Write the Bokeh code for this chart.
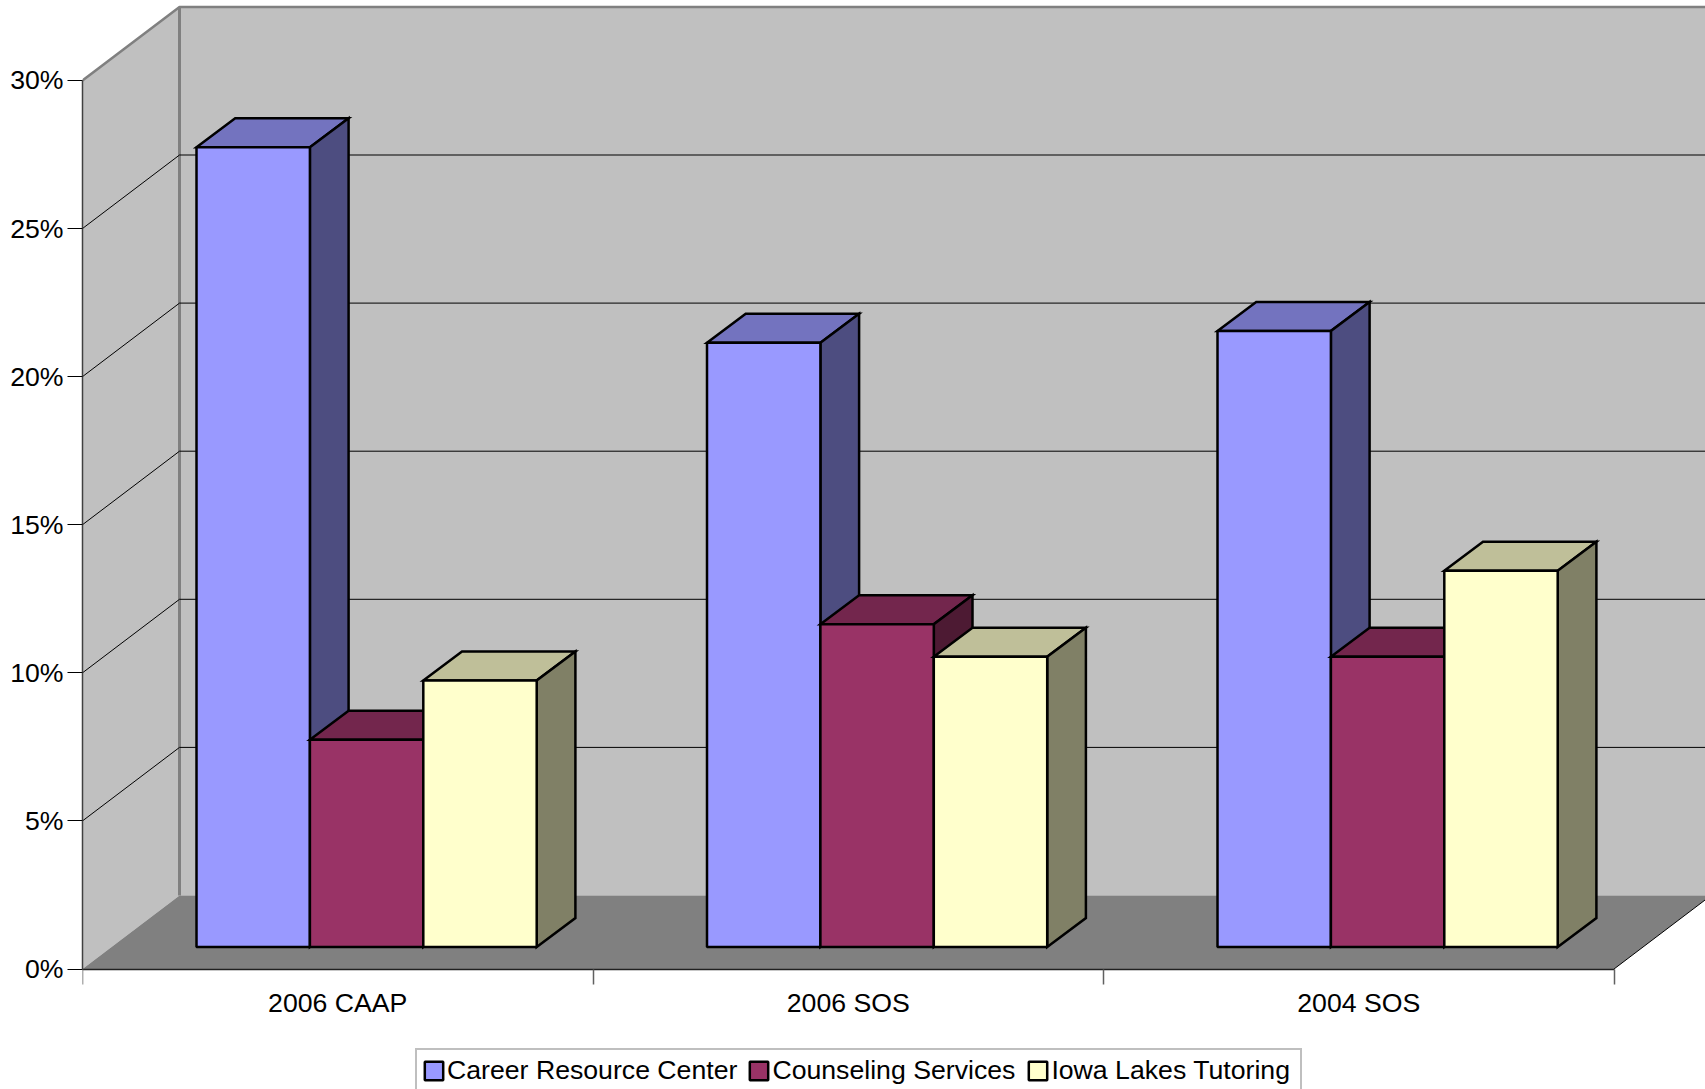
from bokeh.embed import file_html
from bokeh.resources import INLINE
from bokeh.plotting import figure
from bokeh.models import FixedTicker, NumeralTickFormatter, Legend, LegendItem

categories = ["2006 CAAP", "2006 SOS", "2004 SOS"]
series_names = ["Career Resource Center", "Counseling Services", "Iowa Lakes Tutoring"]
career = [0.270, 0.204, 0.208]
counseling = [0.070, 0.109, 0.098]
tutoring = [0.090, 0.098, 0.127]
y_ticks = [0, 0.05, 0.10, 0.15, 0.20, 0.25, 0.30]

# page geometry (pixels)
W, H = 1705, 1089
LEFT, ZERO_Y = 82, 968.5
CAT_W = 510.5
PCT_PX = 29.62 * 100
FONT = "Liberation Sans"
FS = "26.67px"
EDGE = 2.5

# oblique depth of the walls and of the bars, in data units
WALL_DX, WALL_DY = 97 / CAT_W, 73.5 / PCT_PX
BAR_DX, BAR_DY = 38.7 / CAT_W, 29 / PCT_PX
BAR_X0, BAR_W = 114 / CAT_W, 113.4 / CAT_W
BAR_Y0 = 22 / PCT_PX

n = len(categories)
x_end = (W - LEFT) / CAT_W
y_end = ZERO_Y / PCT_PX
y_start = -(H - ZERO_Y) / PCT_PX
y_top = y_ticks[-1]
far = n + WALL_DX

p = figure(width=W, height=H, x_range=(0, x_end), y_range=(y_start, y_end),
           output_backend="svg", toolbar_location=None,
           min_border_left=LEFT, min_border_right=0, min_border_top=0,
           min_border_bottom=0)
p.outline_line_color = None
p.grid.visible = False
p.background_fill_color = "white"

# walls and floor
p.patch([0, WALL_DX, WALL_DX, 0], [0, WALL_DY, y_top + WALL_DY, y_top],
        fill_color="#C0C0C0", line_color=None)
p.patch([WALL_DX, far, far, WALL_DX], [WALL_DY, WALL_DY, y_top + WALL_DY, y_top + WALL_DY],
        fill_color="#C0C0C0", line_color=None)
p.patch([0, n, far, WALL_DX], [0, 0, WALL_DY, WALL_DY],
        fill_color="#808080", line_color=None)
p.line([0, WALL_DX, far], [y_top, y_top + WALL_DY, y_top + WALL_DY], line_color="#808080", line_width=2.5)
p.line([WALL_DX, WALL_DX], [WALL_DY, y_top + WALL_DY], line_color="#808080", line_width=3)
p.line([n, far], [0, WALL_DY], line_color="black", line_width=1)

# gridlines
for t in y_ticks[1:-1]:
    p.line([0, WALL_DX, far], [t, t + WALL_DY, t + WALL_DY], line_color="black", line_width=1)

# bars
styles = [("#9999FF", "#7373BF", "#4D4D80"),
          ("#993366", "#73264D", "#4D1A33"),
          ("#FFFFCC", "#BFBF99", "#808066")]
items = []
for s, (vals, name, (front, top, side)) in enumerate(zip([career, counseling, tutoring], series_names, styles)):
    lefts = [i + BAR_X0 + s * BAR_W for i in range(n)]
    rights = [l + BAR_W for l in lefts]
    tops = [v + BAR_Y0 for v in vals]
    p.patches([[l, r, r + BAR_DX, l + BAR_DX] for l, r in zip(lefts, rights)],
              [[t, t, t + BAR_DY, t + BAR_DY] for t in tops],
              fill_color=top, line_color="black", line_width=EDGE, line_join="miter")
    p.patches([[r, r + BAR_DX, r + BAR_DX, r] for r in rights],
              [[BAR_Y0, BAR_Y0 + BAR_DY, t + BAR_DY, t] for t in tops],
              fill_color=side, line_color="black", line_width=EDGE, line_join="miter")
    q = p.quad(left=lefts, right=rights, bottom=[BAR_Y0] * n, top=tops,
               fill_color=front, line_color="black", line_width=EDGE)
    items.append(LegendItem(label=name, renderers=[q]))

# axes
ya = p.yaxis[0]
ya.ticker = FixedTicker(ticks=y_ticks)
ya.bounds = (0, y_top)
ya.formatter = NumeralTickFormatter(format="0%")
ya.major_label_text_font = FONT
ya.major_label_text_font_size = FS
ya.major_label_text_color = "black"
ya.major_label_standoff = 4
ya.major_tick_out = 15
ya.major_tick_in = 0
ya.minor_tick_out = 0
ya.minor_tick_in = 0
ya.major_tick_line_color = "black"
ya.axis_line_color = "#404040"
ya.axis_line_width = 1.5

xa = p.xaxis[0]
centers = [i + 0.5 for i in range(n)]
xa.fixed_location = 0
xa.ticker = FixedTicker(ticks=centers, minor_ticks=list(range(n + 1)))
xa.major_label_overrides = dict(zip(centers, categories))
xa.bounds = (0, n)
xa.major_label_text_font = FONT
xa.major_label_text_font_size = FS
xa.major_label_text_color = "black"
xa.major_label_standoff = 4
xa.major_tick_out = 0
xa.major_tick_in = 0
xa.minor_tick_out = 15
xa.minor_tick_in = 0
xa.minor_tick_line_color = "#606060"
xa.minor_tick_line_width = 1.5
xa.axis_line_color = "#202020"
xa.axis_line_width = 1.5

legend = Legend(items=items, orientation="horizontal", location=(333, -4),
                label_text_font=FONT, label_text_font_size=FS, label_text_color="black",
                glyph_width=23, glyph_height=23, label_standoff=2, spacing=10, label_width=244,
                padding=5, margin=0, border_line_color="#808080", border_line_width=2,
                background_fill_color="white", background_fill_alpha=1)
p.add_layout(legend, "center")

open("out.html", "w").write(file_html(p, INLINE))
